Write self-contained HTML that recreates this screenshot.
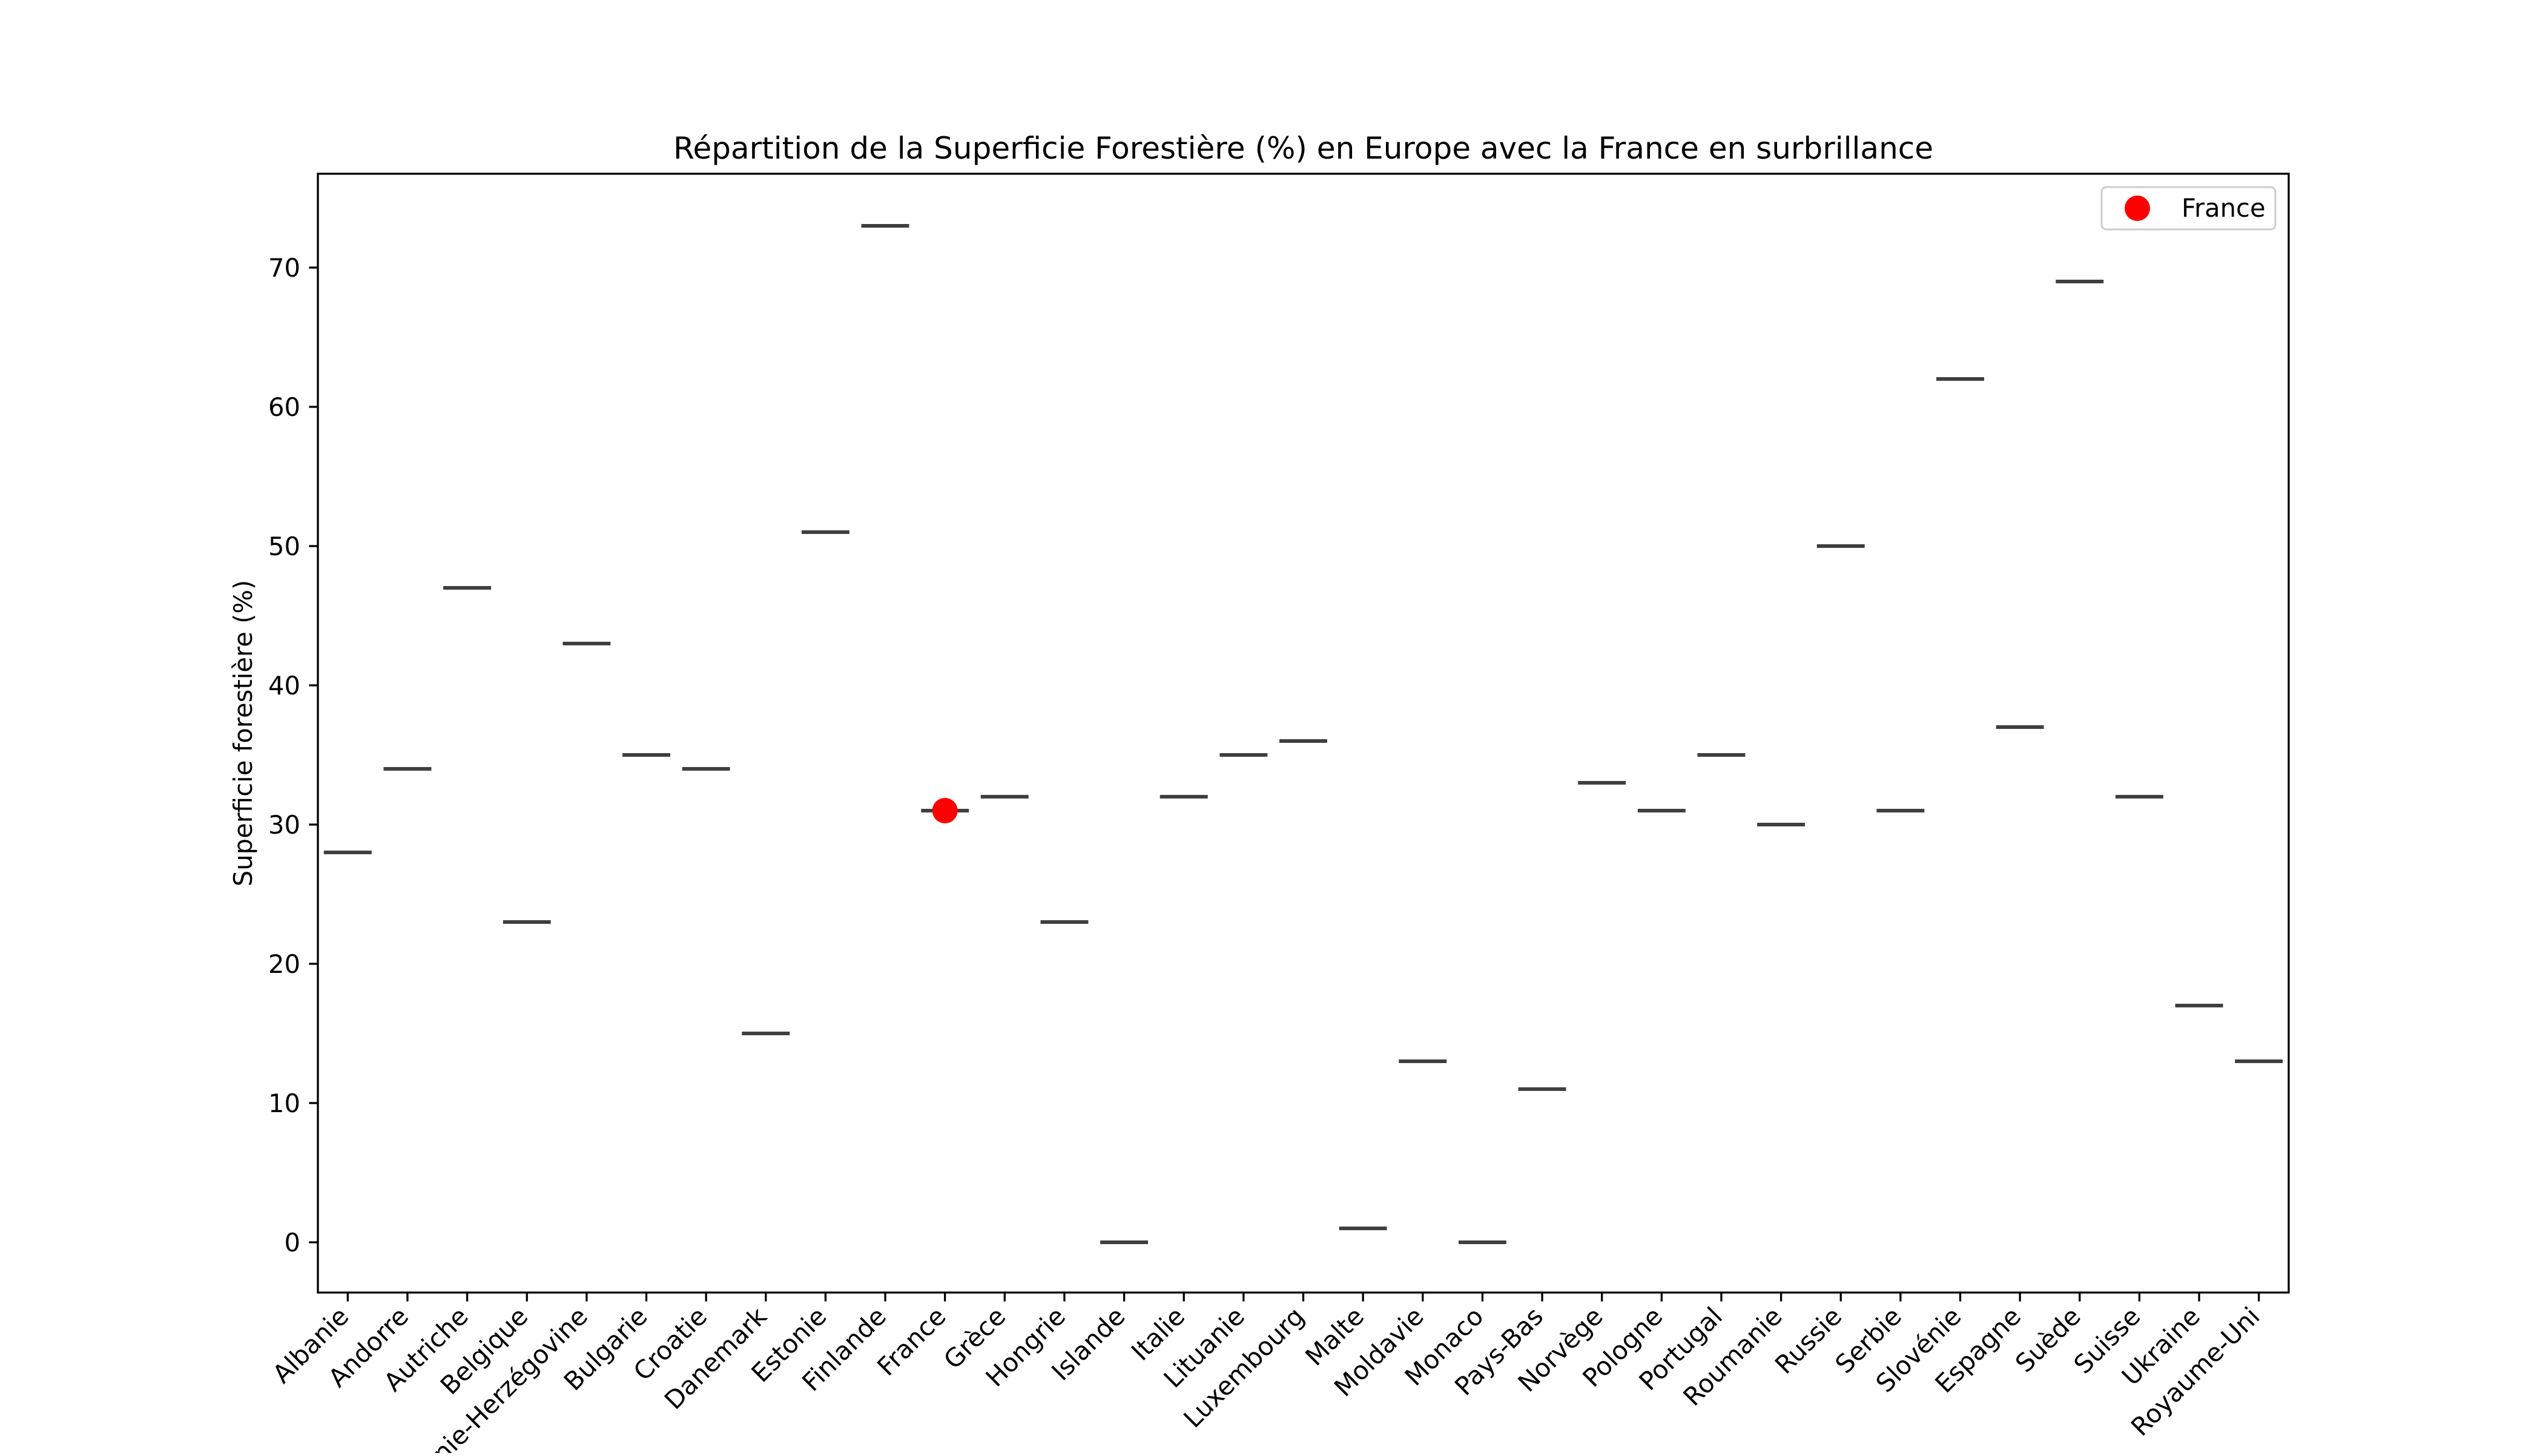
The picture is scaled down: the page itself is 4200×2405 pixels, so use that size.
<!DOCTYPE html>
<html><head><meta charset="utf-8"><style>
html,body{margin:0;padding:0;background:#fff}
svg text{font-family:"DejaVu Sans","Liberation Sans",sans-serif;fill:#000}
</style></head><body>
<svg id="chart" width="4200" height="2400" viewBox="0 0 4200 2400" xmlns="http://www.w3.org/2000/svg">
<rect width="4200" height="2400" fill="#fff"/>
<g id="plot"></g>
</svg>
<script>
const countries=["Albanie","Andorre","Autriche","Belgique","Bosnie-Herzégovine","Bulgarie","Croatie","Danemark","Estonie","Finlande","France","Grèce","Hongrie","Islande","Italie","Lituanie","Luxembourg","Malte","Moldavie","Monaco","Pays-Bas","Norvège","Pologne","Portugal","Roumanie","Russie","Serbie","Slovénie","Espagne","Suède","Suisse","Ukraine","Royaume-Uni"];
const forestPct=[28,34,47,23,43,35,34,15,51,73,31,32,23,0,32,35,36,1,13,0,11,33,31,35,30,50,31,62,37,69,32,17,13];
const highlight="France";
const yTicks=[0,10,20,30,40,50,60,70];

const NS="http://www.w3.org/2000/svg";
const g=document.getElementById('plot');
const L=525,R=3780,T=287,B=2135;
const x=i=>L+(i+0.5)*(R-L)/countries.length;
const y=v=>2052-v*(2052-442)/70;
const bw=0.8*(R-L)/countries.length;
function el(tag,attrs,parent){const e=document.createElementNS(NS,tag);for(const k in attrs)e.setAttribute(k,attrs[k]);(parent||g).appendChild(e);return e;}

forestPct.forEach((v,i)=>{
  const l=el('line',{x1:x(i)-bw/2,x2:x(i)+bw/2,y1:y(v),y2:y(v),stroke:'#3f3f3f','stroke-width':6});
  
  
});
const hi=countries.indexOf(highlight);
const dot=el('circle',{cx:x(hi),cy:y(forestPct[hi]),r:21,fill:'#ff0000'});



const fr=el('rect',{x:L,y:T,width:R-L,height:B-T,fill:'none',stroke:'#000','stroke-width':3.3});



yTicks.forEach(t=>{
  el('line',{x1:L-14.6,x2:L,y1:y(t),y2:y(t),stroke:'#000','stroke-width':3.3});
  const tx=el('text',{x:L-29,y:y(t)+15,'font-size':41.7,'text-anchor':'end'});
  tx.textContent=t;
  
  
});
countries.forEach((c,i)=>{
  const ax=x(i)+4, ay=B+42;
  el('line',{x1:x(i),x2:x(i),y1:B,y2:B+14.6,stroke:'#000','stroke-width':3.3});
  const tx=el('text',{x:ax,y:ay,'font-size':41.7,'text-anchor':'end',transform:`rotate(-45 ${ax} ${ay})`});
  tx.textContent=c;
  
  
});
const ti=el('text',{x:(L+R)/2,y:262,'font-size':50,'text-anchor':'middle'});
ti.textContent="Répartition de la Superficie Forestière (%) en Europe avec la France en surbrillance";


const yl=el('text',{x:416,y:(T+B)/2,'font-size':41.7,'text-anchor':'middle',transform:`rotate(-90 416 ${(T+B)/2})`});
yl.textContent="Superficie forestière (%)";


const lg=el('g',{});


el('rect',{x:3471,y:309,width:287,height:70,rx:8,fill:'#fff',stroke:'#ccc','stroke-width':3},lg);
el('circle',{cx:3530,cy:344,r:21,fill:'#ff0000'},lg);
const lt=el('text',{x:3603,y:358,'font-size':41.7},lg);
lt.textContent="France";


</script>
</body></html>
